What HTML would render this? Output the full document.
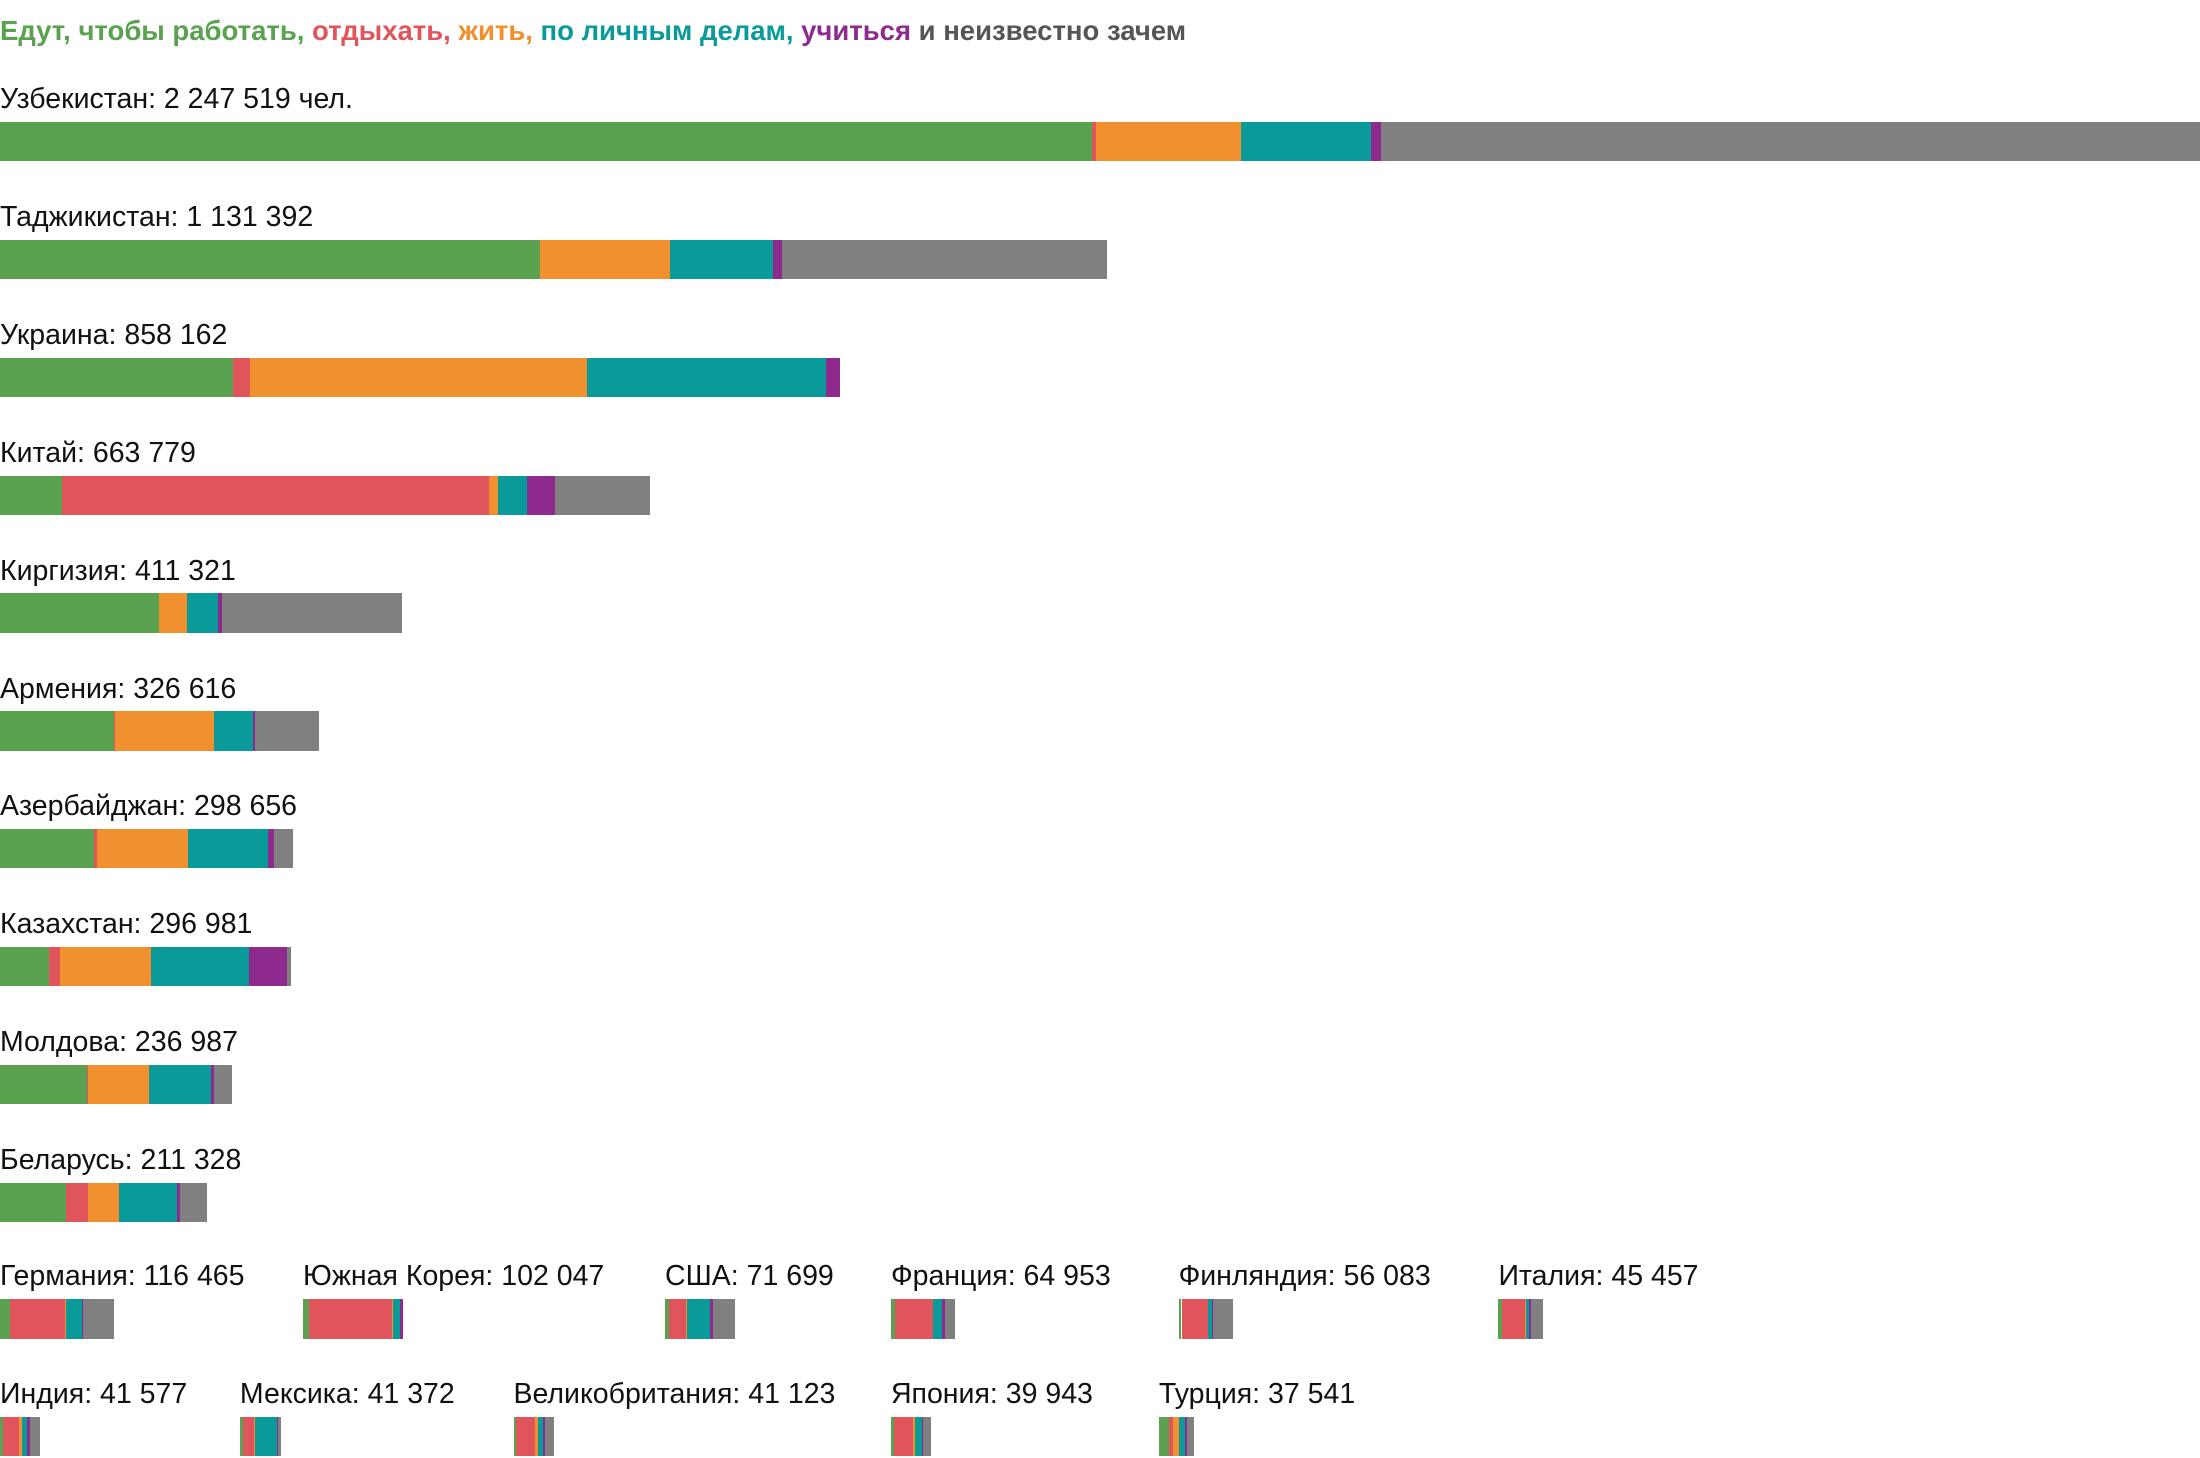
<!DOCTYPE html>
<html><head><meta charset="utf-8">
<style>
html,body{margin:0;padding:0;background:#fff;}
body{width:2200px;height:1458px;overflow:hidden;position:relative;font-family:"Liberation Sans",sans-serif;}
#title{position:absolute;left:0;top:15px;font-size:27.5px;font-weight:bold;color:#555;white-space:nowrap;}
.lbl{position:absolute;font-size:28.5px;color:#111;white-space:nowrap;}
.seg{position:absolute;}
</style></head><body>
<div id="title"><span style="color:#5aa24f">Едут, чтобы работать,</span> <span style="color:#e0555c">отдыхать,</span> <span style="color:#f0902f">жить,</span> <span style="color:#0a9a9a">по личным делам,</span> <span style="color:#8e2a8e">учиться</span> <span style="color:#555">и неизвестно зачем</span></div>
<div id="chart"></div>
<script>
const countries=["Узбекистан","Таджикистан","Украина","Китай","Киргизия","Армения","Азербайджан","Казахстан","Молдова","Беларусь","Германия","Южная Корея","США","Франция","Финляндия","Италия","Индия","Мексика","Великобритания","Япония","Турция"];
const totalLabels=["2 247 519 чел.","1 131 392","858 162","663 779","411 321","326 616","298 656","296 981","236 987","211 328","116 465","102 047","71 699","64 953","56 083","45 457","41 577","41 372","41 123","39 943","37 541"];
// values in thousands of people
const work=[1116,552,238,63,162,116,96,50,89,67,10,6,4,4,3,4,3,3,3,3,10];
const rest=[4,0,17,437,0,1,3,11,1,23,56,85,17,39,27,23,16,11.5,18.6,20,4.3];
const live=[148,132,345,9,29,102,93,93,62,32,1,1,1.4,0,0,1.4,3,1.4,3,1.4,5.7];
const personal=[133,106,244,29,32,39,82,100,64,59,17,7,24,9,4,3,6,21.5,5.7,7,7];
const study=[10,9,14,29,4,3,6,39,3,3,1,3,3,3,1.4,1.4,3,1.4,1.4,1.4,1.4];
const unknown=[836,332,0,97,184,65,19,4,18,27,31,0,22,10,20,13,10,2.8,10,8.6,7];
const series=[work,rest,live,personal,study,unknown];
const seriesNames=["work","rest","live","personal","study","unknown"];
const colors=["#5aa24f","#e0555c","#f0902f","#0a9a9a","#8e2a8e","#808080"];
const maxTotal=2247.5;
const xScale=v=>v*2200/maxTotal;
const S=2200/1568;
function pos(i){
  if(i<10) return {x:0,y:70+84*i};
  const r1=[0,216,474,635,840,1068], r2=[0,171,366,635,826];
  if(i<16) return {x:r1[i-10],y:909};
  return {x:r2[i-16],y:993};
}
const chart=document.getElementById('chart');
countries.forEach((c,i)=>{
  const p=pos(i);
  const x0=p.x*S, ly=p.y*S;
  const l=document.createElement('div');
  l.className='lbl';
  
  
  l.style.left=x0+'px';l.style.top=(ly-15)+'px';
  l.textContent=c+': '+totalLabels[i];
  chart.appendChild(l);
  let x=x0;
  const top=(p.y+17)*S, h=28*S;
  series.forEach((s,k)=>{
    const w=xScale(s[i]);
    if(w<=0) return;
    const d=document.createElement('div');
    d.className='seg';
    
    
    d.style.left=x+'px';d.style.top=top+'px';d.style.width=w+'px';d.style.height=h+'px';
    d.style.background=colors[k];
    chart.appendChild(d);
    x+=w;
  });
});
</script>
</body></html>
